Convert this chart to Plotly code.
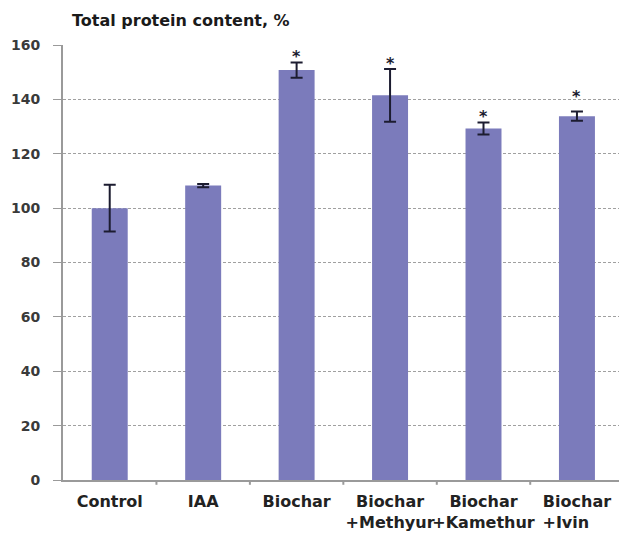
import plotly.graph_objects as go

# Treatments and measured total protein content (% of control)
categories = ["Control", "IAA", "Biochar", "Biochar<br>+Methyur", "Biochar<br>+Kamethur",
              "Biochar<br>+Ivin\u00a0\u00a0\u00a0\u00a0"]
protein = [100.0, 108.3, 150.8, 141.5, 129.3, 133.8]
protein_err = [8.6, 0.6, 2.8, 9.7, 2.2, 1.7]
# significance markers (* = differs from control) and the height they sit at
significant = [False, False, True, True, True, True]
star_y = [None, None, 157.5, 155.0, 135.7, 143.0]
y_ticks = [0, 20, 40, 60, 80, 100, 120, 140, 160]

BAR = "#7b7bbb"
INK = "#1c1c30"
AXIS = "#9a9a9a"

x_idx = list(range(len(categories)))

fig = go.Figure()
fig.add_trace(go.Bar(
    x=x_idx,
    y=protein,
    width=0.385,
    marker=dict(color=BAR, line=dict(width=0)),
    error_y=dict(type="data", array=protein_err, visible=True,
                 color=INK, thickness=2, width=6),
    hoverinfo="skip",
))

for i, (sig, sy) in enumerate(zip(significant, star_y)):
    if sig:
        fig.add_annotation(x=i, y=sy, text="<b>*</b>", showarrow=False,
                           xanchor="center", yanchor="middle", yshift=-5,
                           font=dict(family="DejaVu Sans", size=16, color=INK))

fig.update_layout(
    width=619, height=537,
    margin=dict(l=63, r=0, t=45, b=57),
    paper_bgcolor="white", plot_bgcolor="white",
    showlegend=False,
    title=dict(text="<b>Total protein content, %</b>",
               xref="container", yref="container",
               x=72 / 619, y=1 - 20 / 537, xanchor="left", yanchor="middle",
               font=dict(family="DejaVu Sans", size=16, color="#1a1a1a")),
    font=dict(family="DejaVu Sans"),
)

fig.update_xaxes(
    type="linear",
    range=[-0.5, 5.45],
    tickmode="array", tickvals=x_idx, ticktext=[f"<b>{c}</b>" for c in categories],
    tickangle=0, ticklabeloverflow="allow",
    ticks="", showgrid=False, zeroline=False,
    showline=True, linecolor=AXIS, linewidth=2,
    tickfont=dict(family="DejaVu Sans", size=16, color="#222222"),
    ticklabelstandoff=6,
)
# small tick marks at category boundaries
boundaries = [i + 0.5 for i in range(len(categories) - 1)]
for b in boundaries:
    fig.add_shape(type="line", xref="x", yref="paper", x0=b, x1=b, y0=0, y1=-0.011,
                  line=dict(color=AXIS, width=2))

fig.update_yaxes(
    range=[0, 160],
    tickmode="array", tickvals=y_ticks,
    ticktext=[f"<b>{v}</b>" for v in y_ticks],
    ticks="outside", ticklen=8, tickcolor=AXIS, tickwidth=1,
    showgrid=True, gridcolor="#a0a0a0", griddash="3px,2px", gridwidth=1,
    zeroline=False,
    showline=True, linecolor=AXIS, linewidth=2,
    tickfont=dict(family="DejaVu Sans", size=14, color="#3a3a3a"),
    ticklabelstandoff=10,
)

fig.write_html("out.html")
